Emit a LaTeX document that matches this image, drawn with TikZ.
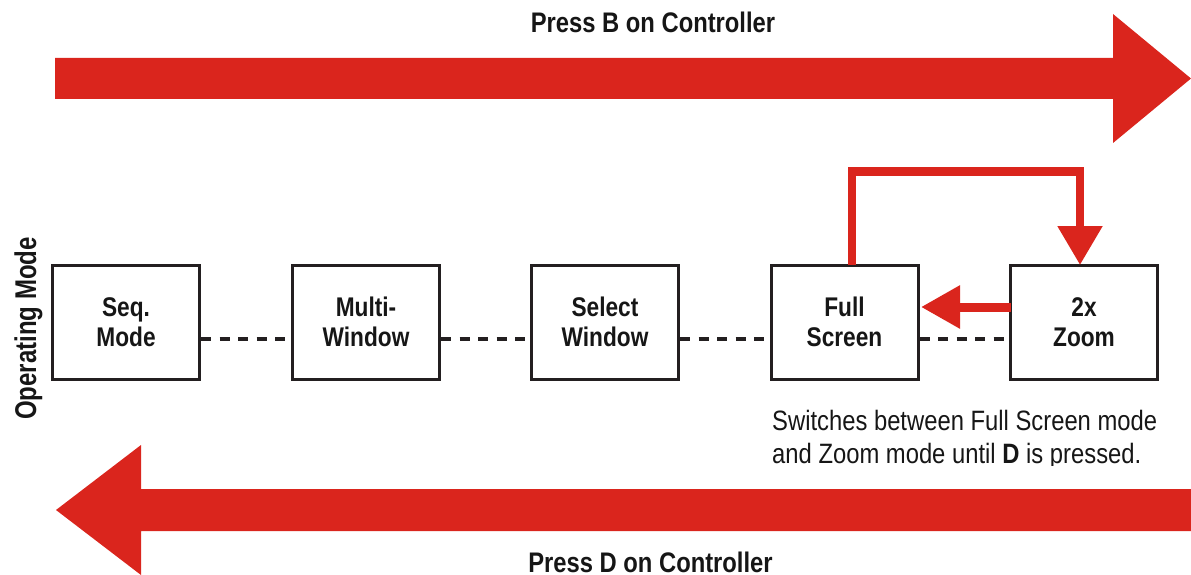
\documentclass[tikz,border=0pt]{standalone}
\usepackage{fontspec}
\setmainfont{Liberation Sans}
\newfontfamily\lblfont{Liberation Sans}[FakeStretch=0.84]
\newfontfamily\descfont{Liberation Sans}[FakeStretch=0.85]
\newfontfamily\sidefont{Liberation Sans}[FakeStretch=0.8]
\usetikzlibrary{arrows.meta}
\definecolor{bigred}{HTML}{DA251D}
\definecolor{boxline}{HTML}{231F20}
\definecolor{ink}{HTML}{161616}
\tikzset{
  modebox/.style={draw=boxline, line width=3pt, minimum width=147pt, minimum height=114pt,
    inner sep=0pt, align=center, text=ink, font=\lblfont\bfseries\fontsize{27}{30}\selectfont},
  dotlink/.style={draw=boxline, line width=3.5pt, dash pattern=on 10pt off 8.5pt},
  redlink/.style={draw=bigred, line join=miter},
  title/.style={text=ink, inner sep=0pt, font=\lblfont\bfseries\fontsize{28.3}{30}\selectfont},
  desc/.style={text=ink, inner sep=0pt, font=\descfont\fontsize{28}{33}\selectfont},
}
\begin{document}
\begin{tikzpicture}[x=1pt,y=-1pt]
\useasboundingbox (0,0) rectangle (1191,575);
% big arrows
\fill[bigred] (55,58) -- (1113,58) -- (1113,14) -- (1191,78.5) -- (1113,143) -- (1113,99) -- (55,99) -- cycle;
\fill[bigred] (1191,489) -- (141,489) -- (141,445) -- (56,510) -- (141,575) -- (141,531) -- (1191,531) -- cycle;
\node[title, anchor=base] (tb) at (653,33) {Press B on Controller};
\node[title, anchor=base] (td) at (650.5,572) {Press D on Controller};
\node[text=ink, inner sep=0pt, rotate=90, anchor=base, font=\sidefont\bfseries\fontsize{30}{30}\selectfont] (om) at (36,328.5) {Operating Mode};
% boxes
\node[modebox] (seq) at (126,322) {Seq.\\Mode};
\node[modebox] (multi) at (366,322) {Multi-\\Window};
\node[modebox] (sel) at (605,322) {Select\\Window};
\node[modebox] (full) at (844.5,322) {Full\\Screen};
\node[modebox] (zoom) at (1084,322) {2x\\Zoom};
% dashed links
\foreach \a/\b in {seq/multi, multi/sel, sel/full, full/zoom}
  \draw[dotlink] ([yshift=-17pt]\a.east) -- ([yshift=-17pt]\b.west);
% feedback arrows
\draw[redlink, line width=8.5pt, -{Triangle[length=39pt,width=43pt]}]
  ([xshift=7.5pt,yshift=-1.5pt]full.north) |- ([xshift=-4pt,yshift=92pt]zoom.north) -- ([xshift=-4pt,yshift=-1.5pt]zoom.north);
\draw[redlink, line width=9pt, -{Triangle[length=39pt,width=41pt]}]
  ([yshift=15pt,xshift=1.5pt]zoom.west) -- ([yshift=15pt,xshift=1.5pt]full.east);
% description
\begin{scope}
\clip (700,380) rectangle (1191,465);
\node[desc, anchor=base west] (d1) at (772,430) {Switches between Full Screen mode};
\node[desc, anchor=base west] (d2) at (772,463) {and Zoom mode until \textbf{D} is pressed.};
\end{scope}
\end{tikzpicture}
\end{document}
